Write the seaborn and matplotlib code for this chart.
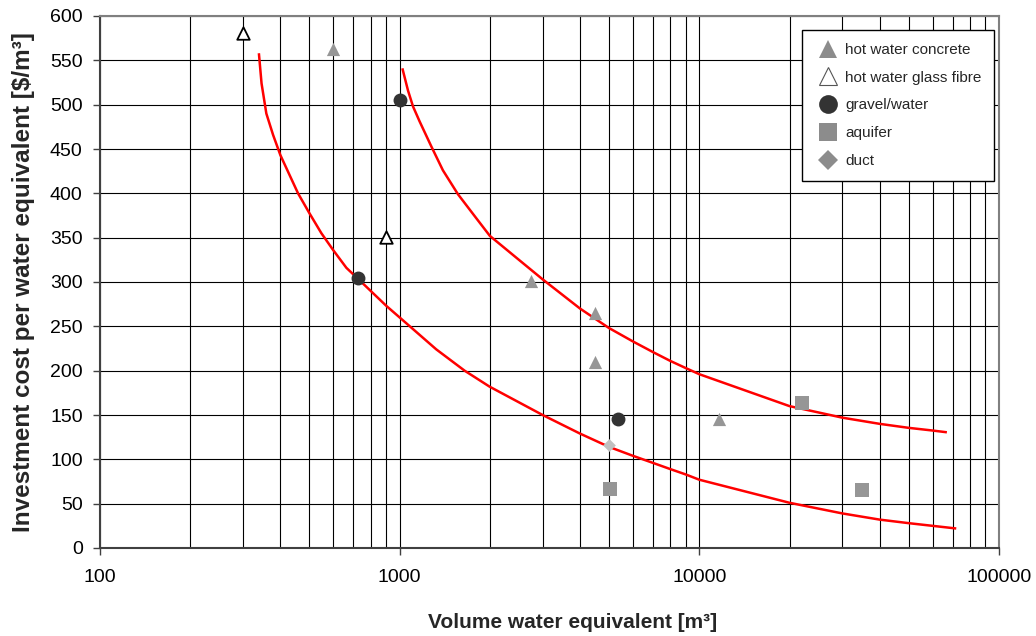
import matplotlib
matplotlib.use("Agg")
import matplotlib.pyplot as plt
from matplotlib.lines import Line2D
from matplotlib.ticker import LogLocator, NullFormatter, FixedLocator, FixedFormatter
import seaborn as sns

# Storage types: volume water equivalent [m3] and investment cost [$/m3]
concrete_vol = [600, 2750, 4500, 4500, 11600]
concrete_cost = [563, 301, 265, 210, 146]
glass_vol = [300, 900]
glass_cost = [581, 351]
gravel_vol = [724, 1000, 5370]
gravel_cost = [305, 505, 146]
aquifer_vol = [5030, 22000, 34800]
aquifer_cost = [67, 164, 65]
duct_vol = [5000]
duct_cost = [116]

# Cost trend curves (upper and lower bound)
upper_vol = [1021, 1066, 1108, 1166, 1275, 1394, 1565, 1801, 2000, 2500, 3000,
             4000, 5000, 6000, 7000, 8000, 9000, 10000, 20000, 30000, 40000,
             50000, 60000, 67000]
upper_cost = [541, 516, 498, 481, 453, 426, 399, 372, 352, 325, 303,
              270, 248, 233, 221, 211, 203, 196, 160, 147, 140,
              135.5, 132.5, 130.5]
lower_vol = [339, 346, 359, 378, 400, 430, 458, 499, 548, 600, 664, 745, 903,
             1000, 1325, 1647, 1995, 3000, 4000, 5000, 6000, 7000, 8000,
             9000, 10000, 20000, 30000, 40000, 50000, 60000, 72000]
lower_cost = [558, 524, 490, 466, 443, 420, 400, 378, 355, 336, 316, 300, 273,
              260, 224, 200, 182, 150, 129, 114, 104, 96, 89,
              83, 77, 51, 39, 32, 28, 25, 22]

x_ticks = [100, 1000, 10000, 100000]
x_tick_labels = ["100", "1000", "10000", "100000"]
y_ticks = list(range(0, 601, 50))

legend_labels = ["hot water concrete", "hot water glass fibre", "gravel/water",
                 "aquifer", "duct"]

sns.set_theme(style="white")
plt.rcParams["font.family"] = ["Liberation Sans", "DejaVu Sans"]

fig = plt.figure(figsize=(10.36, 6.36), dpi=100)
ax = fig.add_axes([100 / 1036, 1 - 548 / 636, 899 / 1036, 532 / 636])
ax.set_xscale("log")

# trend curves
for vol, cost in [(upper_vol, upper_cost), (lower_vol, lower_cost)]:
    sns.lineplot(x=vol, y=cost, ax=ax, color="#ff0000", linewidth=1.8,
                 estimator=None, legend=False, zorder=3,
                 solid_joinstyle="round", solid_capstyle="butt")

gray = "#969696"
sns.scatterplot(x=concrete_vol, y=concrete_cost, ax=ax, marker="^", s=9.5 ** 2,
                color=gray, linewidth=0, zorder=4)
sns.scatterplot(x=glass_vol, y=glass_cost, ax=ax, marker="^", s=9 ** 2,
                facecolor="white", edgecolor="black", linewidth=1.3, zorder=4)
sns.scatterplot(x=gravel_vol, y=gravel_cost, ax=ax, marker="o", s=10 ** 2,
                color="#333333", linewidth=0, zorder=4)
sns.scatterplot(x=aquifer_vol, y=aquifer_cost, ax=ax, marker="s", s=10.5 ** 2,
                color=gray, linewidth=0, zorder=4)
sns.scatterplot(x=duct_vol, y=duct_cost, ax=ax, marker="D", s=6.5 ** 2,
                color="#c0c0c0", linewidth=0, zorder=4)

ax.set_xlim(100, 100000)
ax.set_ylim(0, 600)
ax.xaxis.set_major_locator(FixedLocator(x_ticks))
ax.xaxis.set_major_formatter(FixedFormatter(x_tick_labels))
ax.xaxis.set_minor_locator(LogLocator(base=10, subs=range(2, 10)))
ax.xaxis.set_minor_formatter(NullFormatter())
ax.set_yticks(y_ticks)

ax.set_axisbelow(True)
ax.grid(True, which="both", axis="x", color="black", linewidth=0.8)
ax.grid(True, which="major", axis="y", color="black", linewidth=0.8)

ax.tick_params(axis="both", which="major", direction="out", length=5,
               width=1, color="#404040", labelsize=14, labelcolor="black")
ax.tick_params(axis="x", which="major", pad=10, bottom=True)
ax.tick_params(axis="y", which="major", pad=7.5, left=True)
ax.tick_params(axis="x", which="minor", length=0)

for side in ["left", "bottom"]:
    ax.spines[side].set_color("#404040")
    ax.spines[side].set_linewidth(1.5)
for side in ["top", "right"]:
    ax.spines[side].set_color("#808080")
    ax.spines[side].set_linewidth(1.5)

ax.set_xlabel("Volume water equivalent [m³]", fontsize=15, fontweight="bold")
ax.set_ylabel("Investment cost per water equivalent [$/m³]", fontsize=17.5,
              fontweight="bold")
ax.xaxis.set_label_coords((573 - 100) / 899, -(622 - 548) / 532)
ax.xaxis.label.set_verticalalignment("center")
ax.yaxis.set_label_coords(-(100 - 24) / 899, 0.5)
ax.yaxis.label.set_verticalalignment("center")

handles = [
    Line2D([], [], linestyle="none", marker="^", markersize=13.5,
           markerfacecolor="#8c8c8c", markeredgewidth=0),
    Line2D([], [], linestyle="none", marker="^", markersize=13.5,
           markerfacecolor="white", markeredgecolor="#555555",
           markeredgewidth=0.8),
    Line2D([], [], linestyle="none", marker="o", markersize=13.5,
           markerfacecolor="#333333", markeredgewidth=0),
    Line2D([], [], linestyle="none", marker="s", markersize=13.5,
           markerfacecolor="#8c8c8c", markeredgewidth=0),
    Line2D([], [], linestyle="none", marker="D", markersize=10,
           markerfacecolor="#8c8c8c", markeredgewidth=0),
]
leg = ax.legend(handles, legend_labels, loc="upper left",
                bbox_to_anchor=(802 / 1036, 1 - 30 / 636),
                bbox_transform=fig.transFigure, fontsize=11, frameon=True,
                fancybox=False, shadow=False, borderaxespad=0, borderpad=0.85,
                handlelength=1.75, handletextpad=0.21, labelspacing=0.9)
leg.get_frame().set_edgecolor("black")
leg.get_frame().set_linewidth(1.0)
leg.get_frame().set_facecolor("white")
leg.get_frame().set_alpha(1)

fig.savefig("out.png", dpi=100, facecolor="white")
